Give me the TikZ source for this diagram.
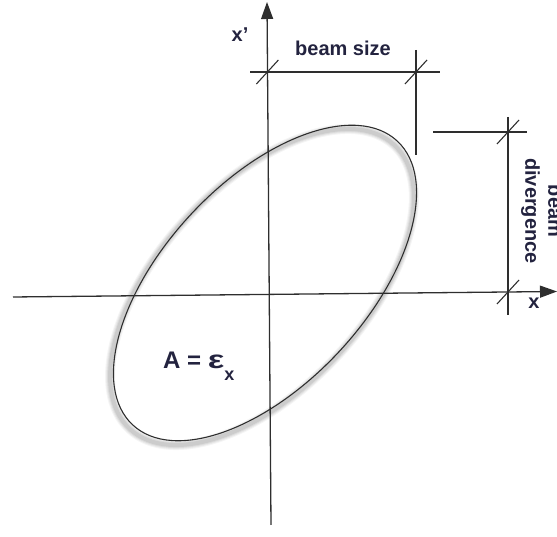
\documentclass[tikz,border=0pt]{standalone}
\usepackage{fontspec}
\setmainfont{Liberation Sans}
\usetikzlibrary{arrows.meta,calc}
\definecolor{ink}{HTML}{2E2E2E}
\definecolor{navy}{HTML}{23233F}
\begin{document}
\begin{tikzpicture}[x=1pt,y=1pt,
  axisline/.style={draw=ink,line width=1.3pt,-{Triangle[length=17pt,width=12pt]}},
  dimline/.style={draw=ink,line width=1.1pt},
  slash/.style={draw=ink,line width=1.1pt},
  lbl/.style={text=navy,font=\bfseries\fontsize{20}{23}\selectfont,inner sep=0pt},
  biglbl/.style={text=navy,font=\bfseries\fontsize{24}{28}\selectfont,inner sep=0pt}]
\useasboundingbox (0,0) rectangle (557,537);
% axes
\coordinate (vb) at (271,12);
\coordinate (vt) at (267,535);
\coordinate (hl) at (13,240);
\coordinate (hr) at (557,245.5);
% ellipse shadow
\foreach \w/\o in {10/0.04,8/0.05,6/0.06,4/0.07}{
  \draw[line width=\w pt,black,opacity=\o,rotate around={47:(262,250)}] (262,250) ellipse [x radius=194, y radius=102];
}
\draw[ink,line width=1.1pt,rotate around={47:(265,254)}] (265,254) ellipse [x radius=194, y radius=101];
\draw[axisline] (vb) -- (vt);
\draw[axisline] (hl) -- (hr);
% beam size
\coordinate (bsL) at (250,465);
\coordinate (bsR) at (440,465);
\coordinate (rvT) at (416,487);
\coordinate (rvB) at (416,382);
\coordinate (t1) at (267.4,465);
\coordinate (t2) at (416,465);
\draw[dimline] (bsL) -- (bsR);
\draw[dimline] (rvT) -- (rvB);
\draw[slash] ($(t1)+(-11,-12)$) -- ($(t1)+(11,12)$);
\draw[slash] ($(t2)+(-11,-12)$) -- ($(t2)+(11,12)$);
% divergence
\coordinate (dvL) at (433,405);
\coordinate (dvR) at (527,405);
\coordinate (dvT) at (508,420);
\coordinate (dvB) at (508,222);
\coordinate (t3) at (508,405);
\coordinate (t4) at (508,245);
\draw[dimline] (dvL) -- (dvR);
\draw[dimline] (dvT) -- (dvB);
\draw[slash] ($(t3)+(-11,-12)$) -- ($(t3)+(11,12)$);
\draw[slash] ($(t4)+(-11,-12)$) -- ($(t4)+(11,12)$);
% labels
\node[lbl] (xp) at (240,502) {x{\char"27}};
\node[lbl] (bs) at (343,489) {beam size};
\node[lbl,rotate=-90,align=center] (bd) at (542,326) {beam\\divergence};
\node[lbl] (xl) at (534,234) {x};
\node[biglbl,anchor=base west] (A) at (163,168) {A = \scalebox{1.45}[1.05]{ε}\raisebox{-12pt}{\fontsize{18}{18}\selectfont x}};
\end{tikzpicture}
\end{document}
